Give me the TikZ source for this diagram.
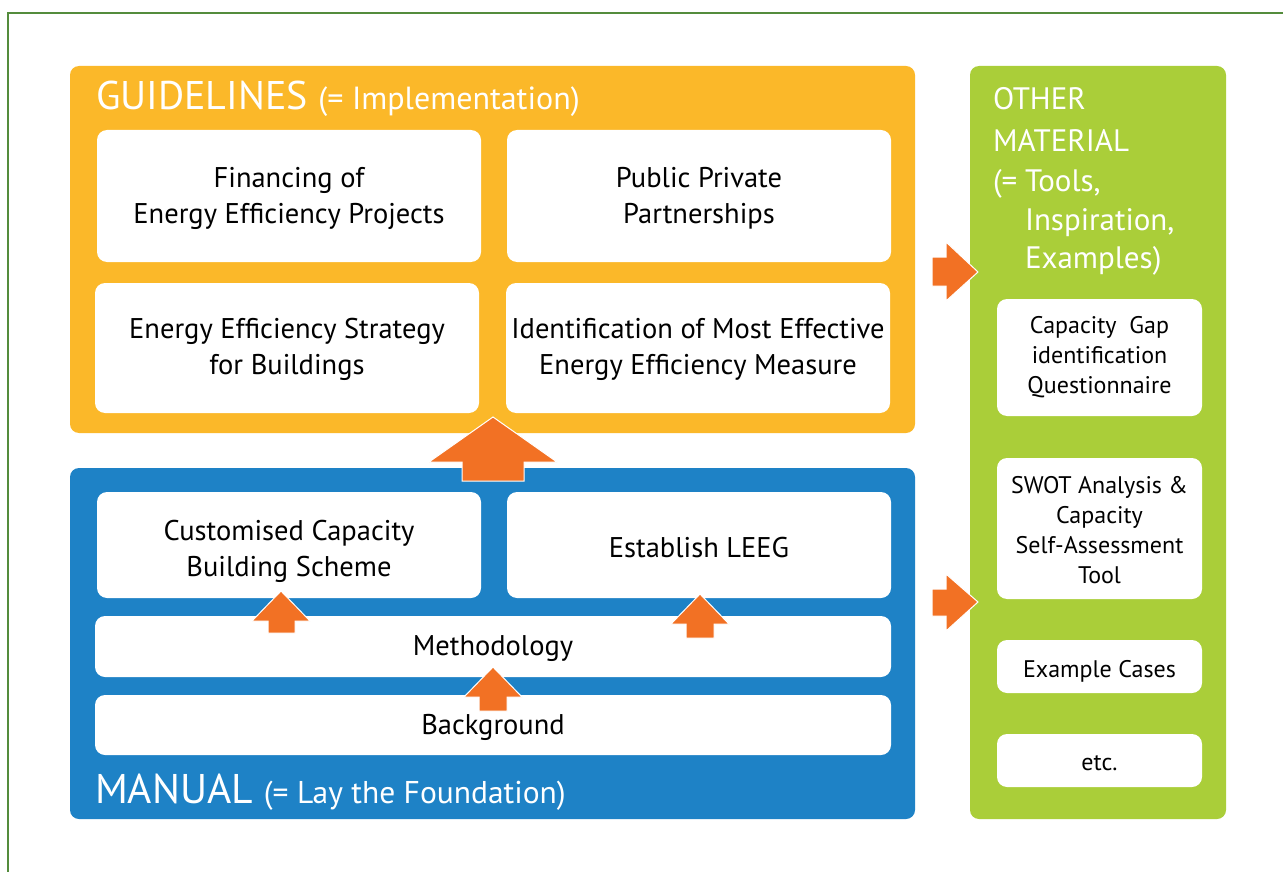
\documentclass[tikz,border=0pt]{standalone}
\usepackage{fontspec}
\setmainfont{PT Sans}
\definecolor{orangebg}{RGB}{251,184,41}
\definecolor{bluebg}{RGB}{30,130,198}
\definecolor{greenbg}{RGB}{170,206,57}
\definecolor{arroworange}{RGB}{242,113,36}
\definecolor{frameg}{RGB}{84,140,60}
\tikzset{
  panel/.style={rounded corners=9pt, inner sep=0pt, outer sep=0pt},
  wbox/.style={fill=white, rounded corners=10pt, inner sep=0pt, outer sep=0pt},
  wtext/.style={inner sep=0pt, align=center, text=black, font=\fontsize{28.5}{36}\selectfont},
  gtext/.style={inner sep=0pt, align=center, text=black, font=\fontsize{24}{30}\selectfont},
  blockarrow/.style={fill=arroworange, draw=white, line width=1pt, line join=miter},
  title/.style={text=white, inner sep=0pt, outer sep=0pt, anchor=base west},
  otitle/.style={title, font=\fontsize{31}{31}\selectfont},
}
\begin{document}
\begin{tikzpicture}[x=1pt,y=-1pt]
\useasboundingbox (0,0) rectangle (1283,872);
\draw[frameg, line width=1.2pt] (8,872) -- (8,13) -- (1283,13);

% panels
\node[panel, fill=orangebg, minimum width=845, minimum height=367] (guide) at (492.5,249.5) {};
\node[panel, fill=bluebg, minimum width=845, minimum height=351] (manual) at (492.5,643.5) {};
\node[panel, fill=greenbg, minimum width=256, minimum height=753] (other) at (1098,442.5) {};

% titles
\node[title] (gtitle) at (96,110) {\fontsize{40}{40}\selectfont GUIDELINES \fontsize{32}{32}\selectfont(= Implementation)};
\node[title] (mtitle) at (95,803) {\fontsize{41.5}{41.5}\selectfont MANUAL \fontsize{31.5}{31.5}\selectfont(= Lay the Foundation)};
\node[otitle] (o1) at (993,110) {OTHER};
\node[otitle] (o2) at (993,152) {MATERIAL};
\node[otitle] (o3) at (993,191) {(=};
\node[otitle] (o4) at (1025,191) {Tools,};
\node[otitle] (o5) at (1025,230) {Inspiration,};
\node[otitle] (o6) at (1025,268) {Examples)};

% guideline boxes
\node[wbox, minimum width=384, minimum height=132] (fin) at (289,196) {};
\node[wbox, minimum width=384, minimum height=132] (ppp) at (699,196) {};
\node[wbox, minimum width=384, minimum height=130] (strat) at (287,348) {};
\node[wbox, minimum width=384, minimum height=130] (ident) at (698,348) {};
\node[wtext] (fin-t) at ([yshift=-2]fin.center) {Financing of\\Energy Efficiency Projects};
\node[wtext] (ppp-t) at ([yshift=-2]ppp.center) {Public Private\\Partnerships};
\node[wtext] (strat-t) at ([yshift=-1]strat.center) {Energy Efficiency Strategy\\for Buildings};
\node[wtext] (ident-t) at ([yshift=-1]ident.center) {Identification of Most Effective\\Energy Efficiency Measure};

% manual boxes
\node[wbox, minimum width=384, minimum height=106] (cust) at (289,545) {};
\node[wbox, minimum width=384, minimum height=106] (leeg) at (699,545) {};
\node[wbox, minimum width=796, minimum height=61] (meth) at (493,646.5) {};
\node[wbox, minimum width=796, minimum height=60] (back) at (493,725) {};
\node[wtext] (cust-t) at ([yshift=-6]cust.center) {Customised Capacity\\Building Scheme};
\node[wtext] (leeg-t) at ([yshift=-3]leeg.center) {Establish LEEG};
\node[wtext] (meth-t) at ([yshift=-2]meth.center) {Methodology};
\node[wtext] (back-t) at ([yshift=-2]back.center) {Background};

% other material boxes
\node[wbox, minimum width=205, minimum height=117] (gap) at (1099.5,357.5) {};
\node[wbox, minimum width=205, minimum height=141] (swot) at (1099.5,528.5) {};
\node[wbox, minimum width=205, minimum height=53] (ex) at (1099.5,666.5) {};
\node[wbox, minimum width=205, minimum height=53] (etc) at (1099.5,760.5) {};
\node[gtext] (gap-t) at (gap.center) {Capacity~ Gap\\identification\\Questionnaire};
\node[gtext] (swot-t) at ([yshift=-1.5]swot.center) {SWOT Analysis \&\\Capacity\\Self-Assessment\\Tool};
\node[gtext] (ex-t) at ([yshift=-4.5]ex.center) {Example Cases};
\node[gtext] (etc-t) at ([yshift=-3]etc.center) {etc.};

% big up arrow (manual -> guidelines)
\fill[blockarrow] (493,417) -- (557,462) -- (524,462) -- (524,481) -- (462,481) -- (462,462) -- (429,462) -- cycle;
% small up arrows
\fill[blockarrow] (281,591) -- (310,621) -- (295,621) -- (295,633) -- (268,633) -- (268,621) -- (252,621) -- cycle;
\fill[blockarrow] (700,594) -- (729,624) -- (714,624) -- (714,638) -- (686,638) -- (686,624) -- (671,624) -- cycle;
\fill[blockarrow] (493,667) -- (522,697) -- (507,697) -- (507,711) -- (479,711) -- (479,697) -- (464,697) -- cycle;
% right arrows to other material
\fill[blockarrow] (978,272) -- (946,301) -- (946,286) -- (932,286) -- (932,257) -- (946,257) -- (946,242) -- cycle;
\fill[blockarrow] (978,602) -- (946,631) -- (946,616) -- (932,616) -- (932,589) -- (946,589) -- (946,574) -- cycle;
\end{tikzpicture}
\end{document}
